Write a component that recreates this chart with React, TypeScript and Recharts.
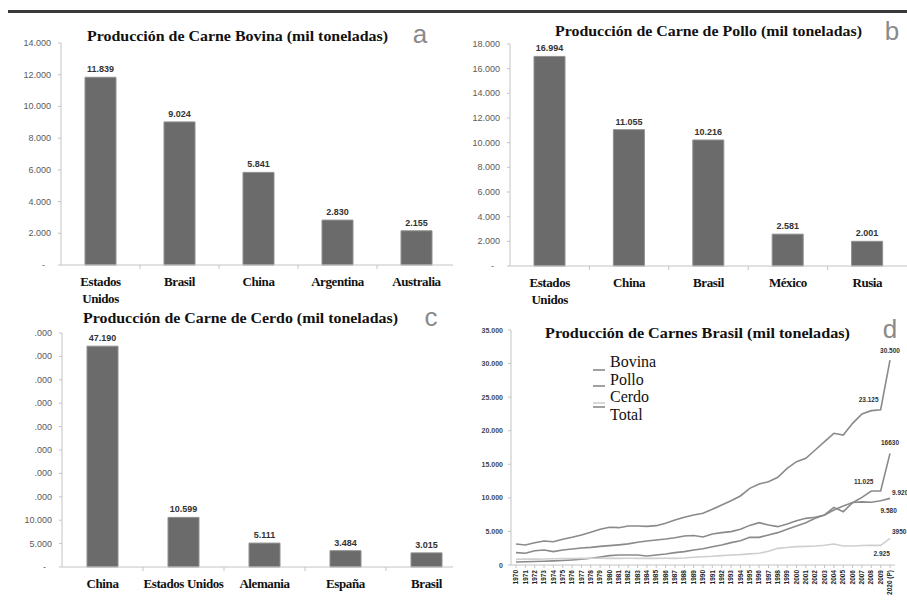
import React from 'react';
import { BarChart, Bar, LineChart, Line, XAxis, YAxis, LabelList, Legend } from 'recharts';

// Panel a: carne bovina
const paisesBovina = ['Estados Unidos', 'Brasil', 'China', 'Argentina', 'Australia'];
const valoresBovina = [11839, 9024, 5841, 2830, 2155];
const ticksBovina = [0, 2000, 4000, 6000, 8000, 10000, 12000, 14000];

// Panel b: carne de pollo
const paisesPollo = ['Estados Unidos', 'China', 'Brasil', 'México', 'Rusia'];
const valoresPollo = [16994, 11055, 10216, 2581, 2001];
const ticksPollo = [0, 2000, 4000, 6000, 8000, 10000, 12000, 14000, 16000, 18000];

// Panel c: carne de cerdo
const paisesCerdo = ['China', 'Estados Unidos', 'Alemania', 'España', 'Brasil'];
const valoresCerdo = [47190, 10599, 5111, 3484, 3015];
const ticksCerdo = [0, 5000, 10000, 15000, 20000, 25000, 30000, 35000, 40000, 45000, 50000];

// Panel d: Brasil
const anos = [
  '1970', '1971', '1972', '1973', '1974', '1975', '1976', '1977', '1978', '1979',
  '1980', '1981', '1982', '1983', '1984', '1985', '1986', '1987', '1988', '1989',
  '1990', '1991', '1992', '1993', '1994', '1995', '1996', '1997', '1998', '1999',
  '2000', '2001', '2002', '2003', '2004', '2005', '2006', '2007', '2008', '2009',
  '2020 (P)',
];
const serieBovina = [
  1837, 1740, 2130, 2230, 1990, 2230, 2380, 2530, 2630, 2780,
  2880, 3000, 3150, 3400, 3575, 3720, 3870, 4070, 4320, 4400,
  4180, 4620, 4820, 4970, 5310, 5900, 6300, 5960, 5710, 6110,
  6600, 6950, 7100, 7450, 8190, 8790, 9300, 9400, 9350, 9580,
  9920,
];
const seriePollo = [
  450, 480, 520, 560, 620, 680, 750, 850, 1000, 1200,
  1400, 1480, 1500, 1490, 1340, 1490, 1640, 1840, 1990, 2230,
  2430, 2730, 2980, 3330, 3620, 4120, 4120, 4470, 4820, 5310,
  5810, 6300, 6950, 7450, 8590, 7940, 9280, 10080, 11025, 11025,
  16630,
];
const serieCerdo = [
  850, 870, 880, 900, 920, 950, 960, 980, 1000, 1000,
  980, 990, 1000, 990, 990, 990, 1000, 990, 1050, 1150,
  1240, 1300, 1400, 1490, 1550, 1650, 1740, 2050, 2480, 2600,
  2730, 2780, 2830, 2950, 3130, 2830, 2830, 2900, 2950, 2925,
  3950,
];
const serieTotal = [
  3128, 2980, 3320, 3575, 3470, 3830, 4130, 4470, 4870, 5320,
  5615, 5560, 5810, 5810, 5760, 5860, 6210, 6700, 7100, 7450,
  7700, 8290, 8940, 9580, 10280, 11420, 12060, 12410, 13060, 14400,
  15390, 15890, 17130, 18370, 19610, 19360, 21100, 22490, 22990, 23125,
  30500,
];
const ticksBrasil = [0, 5000, 10000, 15000, 20000, 25000, 30000, 35000];
// rótulos de los dos últimos puntos, tal como aparecen
const rotulosBovina = ['9.580', '9.920'];
const rotulosPollo = ['11.025', '16630'];
const rotulosCerdo = ['2.925', '3950'];
const rotulosTotal = ['23.125', '30.500'];

const SERIF = "'Liberation Serif', 'Times New Roman', serif";
const SANS = "'Liberation Sans', Arial, sans-serif";
const GRIS_EJE = '#c4c4c4';

const miles = (v: number) => String(v).replace(/\B(?=(\d{3})+(?!\d))/g, '.');
const fmtBarra = (v: number) => (v === 0 ? '-' : miles(v));
// en el original los dos primeros dígitos de estas etiquetas quedan tapados
const fmtCerdo = (v: number) => (v === 0 ? '-' : v > 10000 ? '.000' : miles(v));

const YTick = (p: any) => {
  const { x, y, payload, fmt } = p;
  const txt = fmt(payload.value);
  return (
    <text x={txt === '-' ? x - 6 : x} y={y} dy={3} textAnchor="end" fontSize={9} fill="#5a5a5a" fontFamily={SANS}>
      {txt}
    </text>
  );
};

const XTick = (p: any) => {
  const { x, y, payload, index, band, partir } = p;
  const lineas: string[] = partir && payload.value === 'Estados Unidos' ? ['Estados', 'Unidos'] : [payload.value];
  return (
    <g>
      {index > 0 && <line x1={x - band / 2} x2={x - band / 2} y1={y} y2={y + 4} stroke={GRIS_EJE} />}
      {lineas.map((l, i) => (
        <text key={l} x={x} y={y + 21 + i * 17} textAnchor="middle" fontSize={13} fontWeight="bold"
          letterSpacing={-0.4} fill="#111" fontFamily={SERIF}>
          {l}
        </text>
      ))}
    </g>
  );
};

type PanelBarrasProps = {
  paises: string[];
  valores: number[];
  ticks: number[];
  fmt: (v: number) => string;
  left: number;
  top: number;
  boxWidth: number;
  alto: number;
  chartWidth: number;
  yWidth: number;
  plotTop: number;
  plotBottom: number;
  rightMargin: number;
  band: number;
  partir: boolean;
};

const PanelBarras = (pr: PanelBarrasProps) => {
  const datos = pr.paises.map((p, i) => ({ pais: p, valor: pr.valores[i] }));
  return (
    <div style={{ position: 'absolute', left: pr.left, top: pr.top, width: pr.boxWidth, height: pr.alto, overflow: 'hidden' }}>
      <BarChart width={pr.chartWidth} height={pr.alto} data={datos}
        margin={{ top: pr.plotTop, right: pr.rightMargin, left: 0, bottom: 0 }}>
        <XAxis dataKey="pais" interval={0} height={pr.alto - pr.plotBottom} tickSize={0} tickMargin={0}
          tickLine={false} axisLine={{ stroke: GRIS_EJE }}
          tick={(p: any) => <XTick {...p} band={pr.band} partir={pr.partir} />} />
        <YAxis domain={[0, pr.ticks[pr.ticks.length - 1]]} ticks={pr.ticks} interval={0} width={pr.yWidth}
          tickSize={3} tickMargin={7} axisLine={{ stroke: GRIS_EJE }} tickLine={{ stroke: GRIS_EJE }}
          tick={(p: any) => <YTick {...p} fmt={pr.fmt} />} />
        <Bar dataKey="valor" fill="#6b6b6b" stroke="#8f8f8f" strokeWidth={1} barSize={31} isAnimationActive={false}>
          <LabelList dataKey="valor" position="top" offset={5} formatter={(v: any) => miles(Number(v))}
            fontSize={9} fontWeight="bold" fill="#333" fontFamily={SANS} />
        </Bar>
      </BarChart>
    </div>
  );
};

const XTickAno = (p: any) => {
  const { x, y, payload } = p;
  return (
    <text x={x} y={y} dy={2.2} textAnchor="end" transform={`rotate(-90, ${x}, ${y})`}
      fontSize={6.5} fontWeight="bold" fill="#222" fontFamily={SANS}>
      {payload.value}
    </text>
  );
};

const YTickBrasil = (p: any) => {
  const { x, y, payload } = p;
  return (
    <text x={x} y={y} dy={2.5} textAnchor="end" fontSize={7} fontWeight="bold" fill="#444" fontFamily={SANS}>
      {payload.value === 0 ? '0' : miles(payload.value)}
    </text>
  );
};

type Pos = { dx: number; dy: number; anchor: 'start' | 'middle' | 'end' };
const rotuloFinal = (textos: string[], pos: Pos[]) => (p: any) => {
  const k = p.index - 39;
  if (k < 0 || p.x == null) return null;
  return (
    <text x={p.x + pos[k].dx} y={p.y + pos[k].dy} textAnchor={pos[k].anchor} fontSize={6.5}
      fontWeight="bold" fill="#333" fontFamily={SANS}>
      {textos[k]}
    </text>
  );
};

const series = [
  { key: 'bovina', nombre: 'Bovina', color: '#8a8a8a' },
  { key: 'pollo', nombre: 'Pollo', color: '#8a8a8a' },
  { key: 'cerdo', nombre: 'Cerdo', color: '#cfcfcf' },
  { key: 'total', nombre: 'Total', color: '#8a8a8a' },
];

const LeyendaBrasil = () => {
  const marcas = [18, 34, 51, 55];
  return (
    <svg width={90} height={75}>
      {series.map((s, i) => (
        <g key={s.key}>
          <line x1={0} x2={12} y1={marcas[i]} y2={marcas[i]} stroke={s.color} strokeWidth={1.6} />
          <text x={17} y={15 + i * 17.5} fontSize={16} fill="#111" fontFamily={SERIF}>{s.nombre}</text>
        </g>
      ))}
    </svg>
  );
};

const PanelBrasil = () => {
  const datos = anos.map((a, i) => ({
    ano: a,
    bovina: serieBovina[i],
    pollo: seriePollo[i],
    cerdo: serieCerdo[i],
    total: serieTotal[i],
  }));
  return (
    <div style={{ position: 'absolute', left: 453, top: 305, width: 454, height: 305 }}>
      <LineChart width={454} height={305} data={datos} margin={{ top: 25, right: 12, left: 0, bottom: 0 }}>
        <XAxis dataKey="ano" interval={0} height={45} padding={{ left: 5, right: 5 }} tickSize={3}
          axisLine={{ stroke: GRIS_EJE }} tickLine={{ stroke: GRIS_EJE }} tick={(p: any) => <XTickAno {...p} />} />
        <YAxis domain={[0, 35000]} ticks={ticksBrasil} interval={0} width={58} tickSize={3} tickMargin={5}
          axisLine={{ stroke: GRIS_EJE }} tickLine={{ stroke: GRIS_EJE }} tick={(p: any) => <YTickBrasil {...p} />} />
        <Legend layout="vertical" align="center" verticalAlign="middle" content={() => <LeyendaBrasil />}
          wrapperStyle={{ left: 140, top: 47, width: 90, height: 75 }} />
        <Line dataKey="bovina" stroke="#8a8a8a" strokeWidth={1.6} dot={false} isAnimationActive={false}>
          <LabelList dataKey="bovina" content={rotuloFinal(rotulosBovina, [
            { dx: 8, dy: 12, anchor: 'middle' }, { dx: 2, dy: -3, anchor: 'start' }])} />
        </Line>
        <Line dataKey="pollo" stroke="#8a8a8a" strokeWidth={1.6} dot={false} isAnimationActive={false}>
          <LabelList dataKey="pollo" content={rotuloFinal(rotulosPollo, [
            { dx: -17, dy: -7, anchor: 'middle' }, { dx: 0, dy: -8, anchor: 'middle' }])} />
        </Line>
        <Line dataKey="cerdo" stroke="#cfcfcf" strokeWidth={1.6} dot={false} isAnimationActive={false}>
          <LabelList dataKey="cerdo" content={rotuloFinal(rotulosCerdo, [
            { dx: 1, dy: 11, anchor: 'middle' }, { dx: 2, dy: -4, anchor: 'start' }])} />
        </Line>
        <Line dataKey="total" stroke="#8a8a8a" strokeWidth={1.6} dot={false} isAnimationActive={false}>
          <LabelList dataKey="total" content={rotuloFinal(rotulosTotal, [
            { dx: -12, dy: -8, anchor: 'middle' }, { dx: 0, dy: -7, anchor: 'middle' }])} />
        </Line>
      </LineChart>
    </div>
  );
};

const titulo = { fontFamily: SERIF, fontSize: 14.5, fontWeight: 'bold' as const, fill: '#111' };
const letra = { fontFamily: SANS, fontSize: 26, fill: '#8a8a8a' };

export default function App() {
  return (
    <div style={{ position: 'absolute', left: 0, top: 0, width: 907, height: 610, background: '#fff', overflow: 'hidden' }}>
      <PanelBarras paises={paisesBovina} valores={valoresBovina} ticks={ticksBovina} fmt={fmtBarra}
        left={0} top={0} boxWidth={453} alto={312} chartWidth={470} yWidth={61} plotTop={43} plotBottom={265}
        rightMargin={14} band={79} partir />
      <PanelBarras paises={paisesPollo} valores={valoresPollo} ticks={ticksPollo} fmt={fmtBarra}
        left={453} top={0} boxWidth={454} alto={312} chartWidth={454} yWidth={57} plotTop={44} plotBottom={266}
        rightMargin={0} band={79.4} partir />
      <PanelBarras paises={paisesCerdo} valores={valoresCerdo} ticks={ticksCerdo} fmt={fmtCerdo}
        left={0} top={305} boxWidth={453} alto={305} chartWidth={470} yWidth={62} plotTop={28} plotBottom={262}
        rightMargin={3} band={81} partir={false} />
      <PanelBrasil />
      <svg width={907} height={610} style={{ position: 'absolute', left: 0, top: 0, pointerEvents: 'none' }}>
        <line x1={8} x2={907} y1={11.5} y2={11.5} stroke="#3a3a3a" strokeWidth={3} />
        <text x={87} y={41} textLength={301} lengthAdjust="spacingAndGlyphs" {...titulo}>
          Producción de Carne Bovina (mil toneladas)
        </text>
        <text x={555} y={36} textLength={307} lengthAdjust="spacingAndGlyphs" {...titulo}>
          Producción de Carne de Pollo (mil toneladas)
        </text>
        <text x={83} y={323} textLength={315} lengthAdjust="spacingAndGlyphs" {...titulo}>
          Producción de Carne de Cerdo (mil toneladas)
        </text>
        <text x={545} y={338} textLength={305} lengthAdjust="spacingAndGlyphs" {...titulo}>
          Producción de Carnes Brasil (mil toneladas)
        </text>
        <text x={420} y={43} textAnchor="middle" {...letra}>a</text>
        <text x={892} y={40} textAnchor="middle" {...letra}>b</text>
        <text x={431} y={326} textAnchor="middle" {...letra}>c</text>
        <text x={890} y={338} textAnchor="middle" {...letra}>d</text>
      </svg>
    </div>
  );
}
